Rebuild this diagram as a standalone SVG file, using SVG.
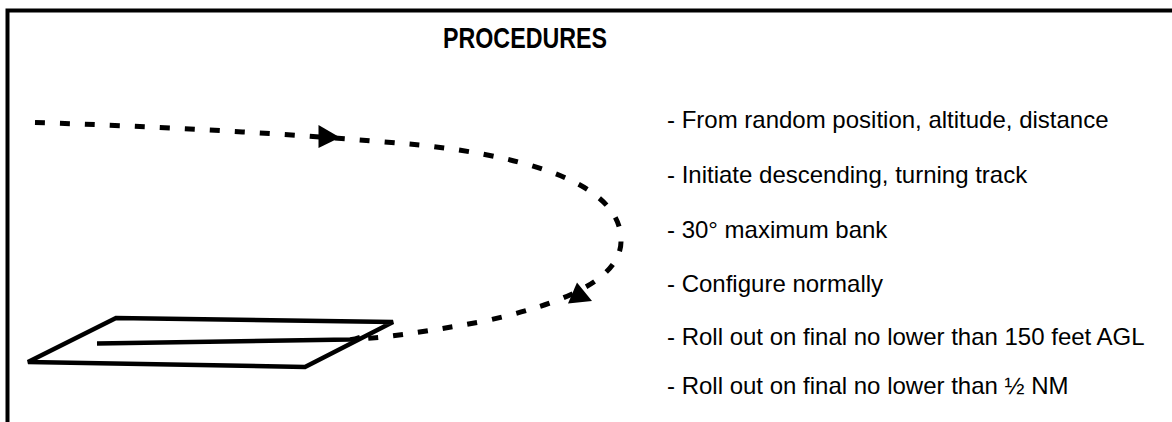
<svg xmlns="http://www.w3.org/2000/svg" width="1172" height="422" viewBox="0 0 1172 422">
<style>
.frame{fill:none;stroke:#000;stroke-width:4}
.title{font-family:"Liberation Sans",Arial,sans-serif;font-weight:bold;font-size:30px;fill:#000}
.item{font-family:"Liberation Sans",Arial,sans-serif;font-size:24px;fill:#000}
.track{fill:none;stroke:#000;stroke-width:5;stroke-dasharray:10 15}
.head{fill:#000;stroke:none}
.runway{fill:none;stroke:#000;stroke-width:4.5;stroke-linejoin:miter}
</style>
<rect width="1172" height="422" fill="#fff"/>
<path class="frame" d="M7.5,422 V10.5 H1172"/>
<text class="title" x="443" y="48" textLength="164" lengthAdjust="spacingAndGlyphs">PROCEDURES</text>
<g id="runway">
<polygon class="runway" points="28,362 116,318 393,322 305,367"/>
<path class="runway" d="M97,343.5 L350,339.5 Q355,339 360,337"/>
</g>
<g id="connectors">
<path class="track" d="M35,122.5 C150,126 300,134 420,145 C540,158 621,188 621,240 C622,280 560,305 480,322 C430,331 390,337 360,339"/>
<polygon class="head" points="318.5,125 318.5,148 340,137.5"/>
<polygon class="head" points="577,282.5 568,303.5 592,301"/>
</g>
<g id="procedures">
<text class="item" x="667" y="128">- From random position, altitude, distance</text>
<text class="item" x="667" y="183">- Initiate descending, turning track</text>
<text class="item" x="667" y="238">- 30° maximum bank</text>
<text class="item" x="667" y="292">- Configure normally</text>
<text class="item" x="667" y="345">- Roll out on final no lower than 150 feet AGL</text>
<text class="item" x="667" y="394">- Roll out on final no lower than ½ NM</text>
</g>
</svg>
